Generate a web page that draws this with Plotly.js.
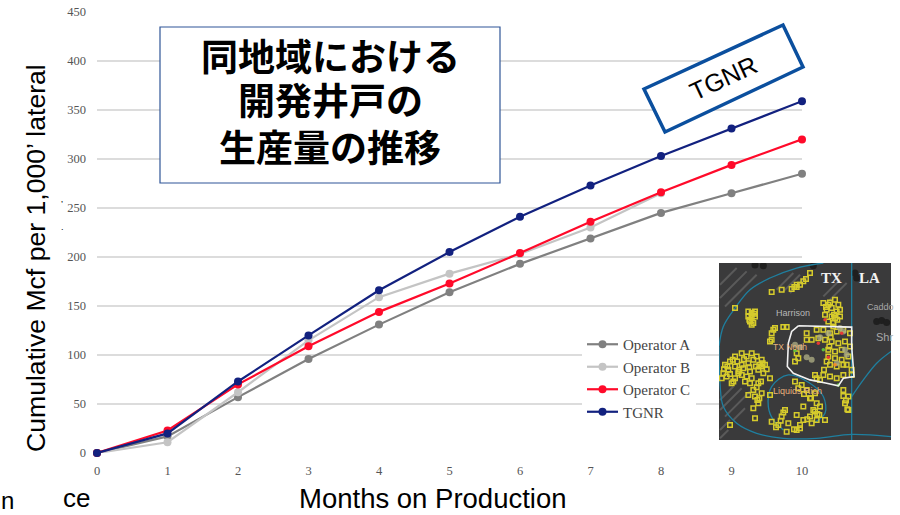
<!DOCTYPE html>
<html><head><meta charset="utf-8">
<script src="https://cdn.plot.ly/plotly-3.0.1.min.js"></script>
<style>html,body{margin:0;padding:0;background:#fff}</style></head>
<body><div id="chart" style="width:900px;height:515px"></div>
<script>
const months=[0,1,2,3,4,5,6,7,8,9,10];
const operatorA=[0,17,57,96,131,164,193,219,245,265,285];
const operatorB=[0,11,62,115,159,183,203,230,265];
const operatorC=[0,23,70,109,144,173,204,236,266,294,320];
const tgnr=[0,20,73,120,166,205,241,273,303,331,359];
const yTicks=[0,50,100,150,200,250,300,350,400,450];
const wellsX=[290,300,275,283,290,310,318,330,215,245,105,145,155,165,145,155,165,150,160,155,148,162,220,215,225,250,260,215,210,370,385,405,415,380,395,410,420,375,395,405,420,385,400,378,390,402,412,350,370,390,410,430,450,355,375,395,415,435,450,385,405,425,385,405,425,445,390,410,430,455,350,370,390,410,430,345,320,320,335,290,295,285,400,392,388,380,372,360,440,455,75,90,105,125,140,155,170,185,195,70,85,105,125,145,65,80,105,125,150,175,190,210,150,160,145,165,185,175,160,210,285,305,320,345,330,350,360,310,345,330,310,290,300,290,255,245,235,265,215,350,375,90,165,430,445,435,445,98,115,135,175,130,95,82,72,112,118,132,148,160,178,188,90,100,116,140,168,185,200,155,170,178,183,172,295,312,333,340,358,352,322,335,300,282,260,250,242,228,438,430,442];
const wellsY=[105,105,118,112,112,95,88,70,127,120,175,185,190,185,200,205,200,215,220,225,210,192,240,250,235,232,232,270,275,160,165,150,165,180,175,185,180,195,200,205,200,215,220,172,158,195,210,240,240,250,245,240,250,265,270,275,280,275,290,300,305,300,320,325,330,320,345,350,345,360,385,375,380,385,375,375,250,270,270,310,325,335,230,262,290,335,360,390,345,375,345,335,320,310,320,310,320,330,345,370,360,350,345,340,385,380,385,375,365,360,370,385,400,420,435,440,430,460,475,435,395,405,420,430,445,460,470,470,485,500,510,495,525,540,480,500,525,520,515,510,510,525,505,420,440,460,480,330,370,395,400,355,400,350,358,335,360,328,352,330,345,340,372,395,365,380,350,350,358,385,412,445,395,450,415,432,445,480,495,492,508,520,535,538,545,488,512,532,452,438,478];
const outlineX=[295,380,455,455,460,462,430,415,380,330,280,262,265,275,295];
const outlineY=[228,230,232,290,350,380,385,408,400,390,370,350,280,245,228];
const arcTopX=[57,70,105,150,210,290,370];
const arcTopY=[290,230,175,120,85,55,40];
const arcBottomX=[57,60,70,110,170,250,350,455,573];
const arcBottomY=[290,400,470,520,550,565,565,553,560];
const arcRightX=[455,490,530,573];
const arcRightY=[440,390,340,305];
const arcInnerX=[250,220,205,215,265,330,370,375,340];
const arcInnerY=[540,510,470,410,375,400,440,490,520];
const borderX=[455,455];
const borderY=[40,570];
const patchX=[285,300,320,335,420,440,435,430,360,410,385];
const patchY=[285,292,322,330,235,315,300,245,262,340,250];
const hotX=[375,425,385,355,405,370,285,415];
const hotY=[210,250,322,280,345,300,302,405];
const hotColors=['#e53935','#e53935','#e53935','#e53935','#f28c28','#5fbf3a','#5fbf3a','#5fbf3a'];
const darkX=[470,465,530,545,560,165,190,340];
const darkY=[85,70,215,212,218,46,48,48];
const hatchX=[60,110,null,60,140,null,75,170,null,230,280,null,250,300,null,270,320,null,370,420,null,385,440,null,60,100,null,60,125,null,75,150,null,60,90,null,100,135,null,60,85];
const hatchY=[105,55,null,145,65,null,170,75,null,120,70,null,125,75,null,130,80,null,140,90,null,155,100,null,450,410,null,480,415,null,500,425,null,540,510,null,510,475,null,565,540];

const cw=900,ch=515;
const fx=v=>v/cw, fy=v=>(ch-v)/ch;
const note=(text,x,y,size,extra)=>Object.assign({text,xref:'paper',yref:'paper',x:fx(x),y:fy(y),showarrow:false,xanchor:'center',yanchor:'middle',font:{size,color:'#000',family:'Liberation Sans'}},extra||{});
const jp=(text,y)=>note('<b>'+text+'</b>',330,y,37,{font:{size:37,color:'#000',family:'Liberation Sans, Noto Sans CJK JP'}});
const mapNote=(text,x,y,size,color,family)=>({text,xref:'x2',yref:'y2',x,y,showarrow:false,xanchor:'center',yanchor:'middle',font:{size,color,family:family||'Liberation Sans'}});
const series=(name,x,y,color)=>({name,x,y,type:'scatter',mode:'lines+markers',line:{color,width:2.2},marker:{color,size:8},cliponaxis:false,legendgroup:name,hoverinfo:'skip'});
const mapTrace=(x,y,o)=>Object.assign({x,y,xaxis:'x2',yaxis:'y2',type:'scatter',showlegend:false,hoverinfo:'skip'},o);
const blue={color:'#1f7f9f',width:1.3,shape:'spline'};

const traces=[
 series('Operator A',months,operatorA,'#808080'),
 series('Operator B',months.slice(0,operatorB.length),operatorB,'#c4c4c4'),
 series('Operator C',months,operatorC,'#ff0a2a'),
 series('TGNR',months,tgnr,'#12217f'),
 mapTrace(hatchX,hatchY,{mode:'lines',line:{color:'#5a5a5a',width:2}}),
 mapTrace(darkX,darkY,{mode:'markers',marker:{size:7,color:'#1f1f1f'}}),
 mapTrace(arcTopX,arcTopY,{mode:'lines',line:blue}),
 mapTrace(arcBottomX,arcBottomY,{mode:'lines',line:blue}),
 mapTrace(arcRightX,arcRightY,{mode:'lines',line:blue}),
 mapTrace(arcInnerX,arcInnerY,{mode:'lines',line:blue}),
 mapTrace(borderX,borderY,{mode:'lines',line:{color:'#1f7f9f',width:1.3}}),
 mapTrace(wellsX,wellsY,{mode:'markers',marker:{symbol:'square-open',size:4.5,color:'#d6cb2c',line:{width:1.5,color:'#d6cb2c'}}}),
 mapTrace(patchX,patchY,{mode:'markers',marker:{symbol:'circle',size:6,color:'rgba(170,170,130,0.8)'}}),
 mapTrace(hotX,hotY,{mode:'markers',marker:{symbol:'circle',size:3.5,color:hotColors}}),
 mapTrace(outlineX,outlineY,{mode:'lines',line:{color:'#f2f2f2',width:1.6}})
];

const rotated=[[644,89],[783,25],[803,67],[665,132]];
const tickFont={family:'Liberation Serif',size:12.5,color:'#555'};
const layout={
 width:cw,height:ch,margin:{l:0,r:0,t:0,b:0},
 paper_bgcolor:'#fff',plot_bgcolor:'#fff',
 showlegend:true,
 legend:{x:fx(582),y:fy(328),xanchor:'left',yanchor:'top',bgcolor:'#fff',borderwidth:0,tracegroupgap:9.5,itemwidth:31,font:{family:'Liberation Serif',size:15,color:'#444'},traceorder:'normal'},
 xaxis:{domain:[97/cw,802/cw],range:[0,10],tickvals:months,showgrid:false,zeroline:false,showline:false,ticks:'',tickfont:tickFont,ticklabelstandoff:8,anchor:'y'},
 yaxis:{domain:[(ch-453)/ch,(ch-12)/ch],range:[0,450],tickvals:yTicks,showgrid:true,gridcolor:'#dcdcdc',gridwidth:1.2,zeroline:false,showline:false,ticks:'',tickfont:tickFont,ticklabelstandoff:10,anchor:'x'},
 xaxis2:{domain:[719/cw,891/cw],range:[57,573],visible:false,anchor:'y2',fixedrange:true},
 yaxis2:{domain:[(ch-440)/ch,(ch-263)/ch],range:[570,40],visible:false,anchor:'x2',fixedrange:true},
 shapes:[
  {type:'rect',xref:'x2',yref:'y2',x0:57,x1:573,y0:40,y1:570,fillcolor:'#3a3a3b',line:{width:0},layer:'below'},
  {type:'rect',xref:'paper',yref:'paper',x0:fx(160),x1:fx(500),y0:fy(27),y1:fy(183),fillcolor:'#fff',line:{color:'#2f5597',width:1.2},layer:'above'},
  {type:'path',xref:'paper',yref:'paper',path:'M'+rotated.map(p=>fx(p[0])+','+fy(p[1])).join('L')+'Z',fillcolor:'#fff',line:{color:'#0b4f9e',width:3.5},layer:'above'}
 ],
 annotations:[
  jp('同地域における',58),
  jp('開発井戸の',103),
  jp('生産量の推移',149),
  note('TGNR',723,78,25,{textangle:-25}),
  note('Cumulative Mcf per 1,000’ lateral',36,258,26.6,{textangle:-90}),
  note('Months on Production',433,498,27.5),
  note('n',7,500,24),
  note('ce',76,498,26),
  note('’',62,204,9),
  note('.',62,227,9),
  mapNote('<b>TX</b>',395,86,15,'#f2f2f2','Liberation Serif'),
  mapNote('<b>LA</b>',508,86,15,'#f2f2f2','Liberation Serif'),
  mapNote('Harrison',278,191,9,'#b8b8b8'),
  mapNote('Caddo',540,171,9,'#a8a8a8'),
  mapNote('Shr',552,263,11,'#a8a8a8'),
  mapNote('TX North',270,291,8.5,'#e8b27c'),
  mapNote('Liquids Rich',292,424,9,'#e8b27c')
 ]
};
Plotly.newPlot('chart',traces,layout,{displayModeBar:false,staticPlot:true});
</script></body></html>
